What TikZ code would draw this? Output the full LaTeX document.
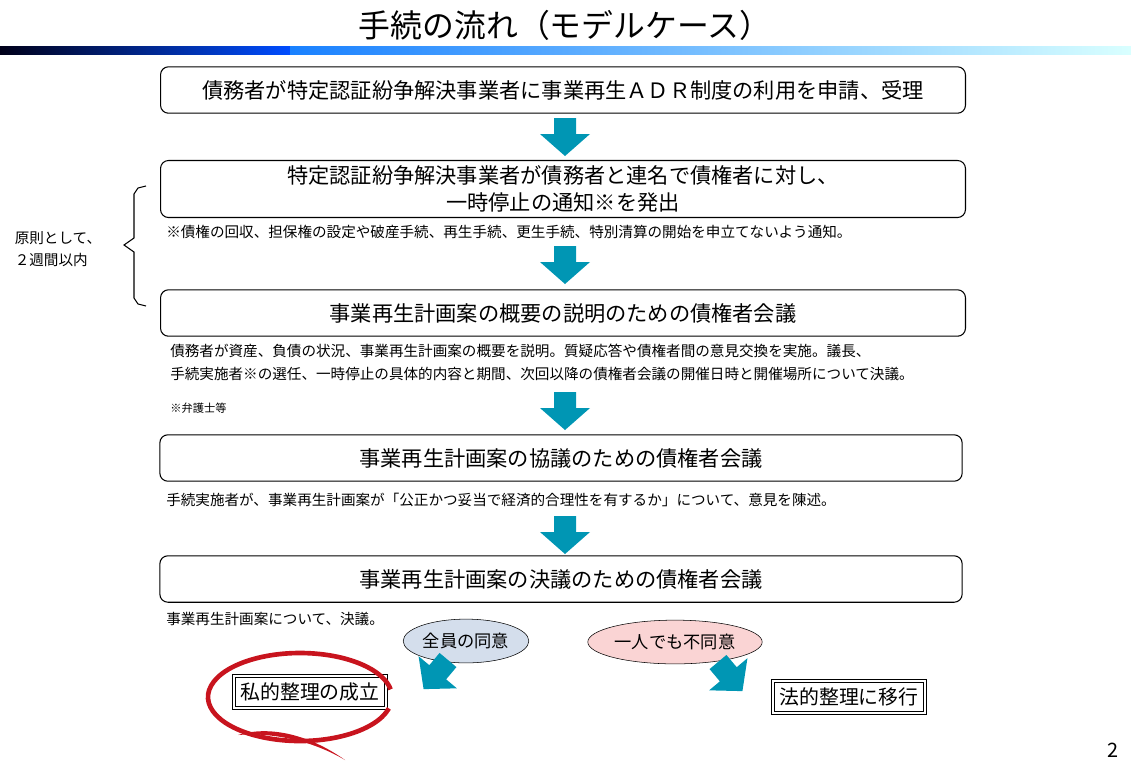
\documentclass[tikz,border=0pt]{standalone}
\usepackage{fontspec}
\setmainfont{Noto Sans CJK JP}
\usetikzlibrary{shapes.geometric, calc}
\definecolor{flowteal}{RGB}{0,150,180}
\definecolor{agreeblue}{RGB}{212,222,236}
\definecolor{denypink}{RGB}{250,212,212}
\definecolor{circlered}{RGB}{200,20,30}
\tikzset{
  stepbox/.style={draw, thick, rounded corners=6pt, minimum width=607pt, minimum height=35pt, font=\fontsize{16}{20}\selectfont, align=center, inner sep=0},
  note/.style={anchor=west, font=\fontsize{11}{17}\selectfont, align=left, inner sep=0},
  bubble/.style={draw, ellipse, inner sep=1pt, font=\fontsize{13}{15}\selectfont},
  result/.style={draw, double, double distance=1.2pt, thick, inner sep=5pt, font=\fontsize{15}{17}\selectfont},
  pics/flowarrow/.style={code={\fill[flowteal] (-11,0)--(11,0)--(11,16)--(25,16)--(0,38)--(-25,16)--(-11,16)--cycle;}}
}
\begin{document}
\begin{tikzpicture}[x=0.0265cm, y=-0.0265cm]
            \useasboundingbox (0,0) rectangle (1131,780);

            % title and bar
            \node (title) at (565,25) {\fontsize{24}{26}\selectfont 手続の流れ（モデルケース）};
            \shade[left color=black!90!blue, right color=blue!70!cyan] (0,46) rectangle (290,54);
            \shade[left color=blue!55!cyan!90, right color=cyan!15] (290,46) rectangle (1131,54);

            % steps
            \node[stepbox] (s1) at (563,90) {債務者が特定認証紛争解決事業者に事業再生ＡＤＲ制度の利用を申請、受理};
            \node[stepbox, minimum height=43pt] (s2) at (563,189) {特定認証紛争解決事業者が債務者と連名で債権者に対し、\\一時停止の通知※を発出};
            \node[stepbox] (s3) at (563,313) {事業再生計画案の概要の説明のための債権者会議};
            \node[stepbox, minimum width=605pt] (s4) at (561,458) {事業再生計画案の協議のための債権者会議};
            \node[stepbox, minimum width=605pt] (s5) at (561,579) {事業再生計画案の決議のための債権者会議};

            \pic at (565,118) {flowarrow};
            \pic at (565,246) {flowarrow};
            \pic at (565,392) {flowarrow};
            \pic at (565,516) {flowarrow};

            % notes
            \node[note] (n2) at (166,232) {※債権の回収、担保権の設定や破産手続、再生手続、更生手続、特別清算の開始を申立てないよう通知。};
            \node[note, anchor=north west] (n3) at (170,344) {債務者が資産、負債の状況、事業再生計画案の概要を説明。質疑応答や債権者間の意見交換を実施。議長、\\手続実施者※の選任、一時停止の具体的内容と期間、次回以降の債権者会議の開催日時と開催場所について決議。};
            \node[note, font=\fontsize{8.5}{10}\selectfont] (n3b) at (170,408) {※弁護士等};
            \node[note] (n4) at (166,500) {手続実施者が、事業再生計画案が「公正かつ妥当で経済的合理性を有するか」について、意見を陳述。};
            \node[note] (n5) at (166,619) {事業再生計画案について、決議。};

            % period
            \draw[thick] (146,186) -- (138,188) -- (134,194) -- (134,238) -- (124,245) -- (134,252) -- (134,298) -- (138,304) -- (146,306);
            \node[font=\fontsize{11}{17}\selectfont, align=left] (period) at (58,249) {原則として、\\２週間以内};

            % outcome
            \node[bubble, fill=agreeblue, minimum width=93pt, minimum height=33pt] (agree) at (466,641) {全員の同意};
            \node[bubble, fill=denypink, minimum width=117pt, minimum height=33pt] (deny) at (675,642) {一人でも不同意};
            \pic[rotate=-40] at (448,660) {flowarrow};
            \pic[rotate=40] at (718,662) {flowarrow};
            \node[result] (ok) at (310,692) {私的整理の成立};
            \node[result] (legal) at (849,697) {法的整理に移行};

            \draw[circlered, line width=3.5pt] (300,697) ++(15:92 and 44) arc (15:350:92 and 44);
            \fill[circlered] (345,760) .. controls (310,735) and (270,725) .. (238,735) .. controls (275,732) and (315,742) .. (345,760);

            \node (page) at (1113,750) {\fontsize{15}{17}\selectfont 2};
        \end{tikzpicture}
\end{document}
